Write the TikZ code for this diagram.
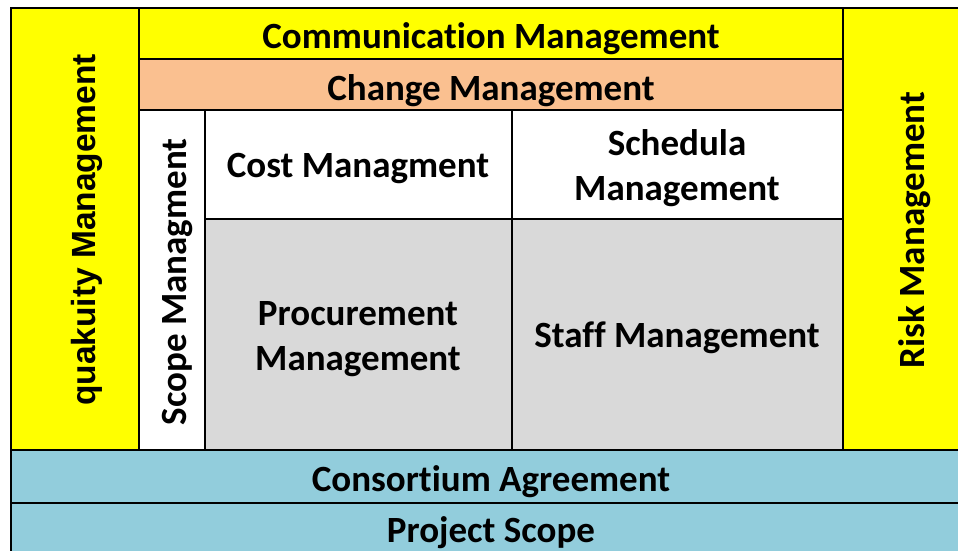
\documentclass[tikz,border=0pt]{standalone}
\usepackage{fontspec}
\setmainfont{Carlito}[Ligatures={NoCommon}]
\newfontfamily\arialfont{Liberation Sans}
\definecolor{cyel}{HTML}{FFFF00}
\definecolor{cpeach}{HTML}{FAC090}
\definecolor{cblue}{HTML}{92CDDC}
\definecolor{cgray}{HTML}{D9D9D9}
\begin{document}
\begin{tikzpicture}[x=1pt,y=-1pt,
  cell/.style={draw=black,line width=2pt},
  lbl/.style={font=\fontsize{37}{45}\selectfont\bfseries,inner sep=0pt,align=center},
  lblb/.style={lbl,anchor=base}]
\useasboundingbox (0,0) rectangle (958,550);
\fill[white] (0,0) rectangle (958,550);
\clip (0,0) rectangle (958,550);
% cells
\path[cell,fill=cyel] (11,8) rectangle (139,450);
\path[cell,fill=cyel] (843,8) rectangle (975,450);
\path[cell,fill=cyel] (139,8) rectangle (843,59);
\path[cell,fill=cpeach] (139,59) rectangle (843,110);
\path[cell,fill=white] (139,110) rectangle (205,450);
\path[cell,fill=white] (205,110) rectangle (512,219);
\path[cell,fill=white] (512,110) rectangle (843,219);
\path[cell,fill=cgray] (205,219) rectangle (512,450);
\path[cell,fill=cgray] (512,219) rectangle (843,450);
\path[cell,fill=cblue] (11,450) rectangle (975,503);
\path[cell,fill=cblue] (11,503) rectangle (975,560);
% labels
\node[lblb] (comm) at (491,48) {Communication Management};
\node[lblb] (chg) at (491,100) {Change Management};
\node[lblb] (cost) at (358,177) {Cost Managment};
\node[lbl] (sched) at (677,168) {Schedula\\Management};
\node[lbl] (proc) at (358,339) {Procurement\\Management};
\node[lblb] (staff) at (677,347) {Staff Management};
\node[lblb] (cons) at (491,491) {Consortium Agreement};
\node[lblb] (proj) at (491,542) {Project Scope};
\node[lbl,rotate=90] (scope) at (177,282) {Scope Managment};
\node[lbl,rotate=90] (risk) at (915,230) {Risk Management};
\node[inner sep=0pt,rotate=90,font=\arialfont\fontsize{33.5}{40}\selectfont\bfseries] (qual) at (87,230) {quakuity Management};
\end{tikzpicture}
\end{document}
